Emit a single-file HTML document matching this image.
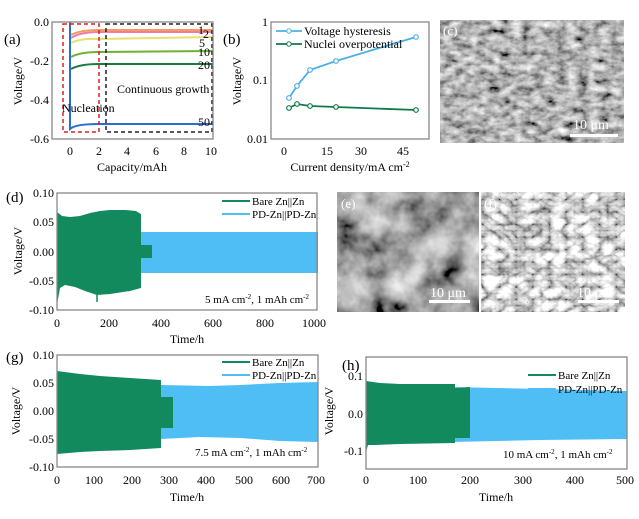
<!DOCTYPE html>
<html><head><meta charset="utf-8"><style>
html,body{margin:0;padding:0;background:#fff;}
svg{display:block;font-family:"Liberation Serif",serif;}
</style></head><body>
<svg width="639" height="519" viewBox="0 0 639 519" xmlns="http://www.w3.org/2000/svg">
<defs>
<filter id="semc" x="0" y="0" width="100%" height="100%">
<feTurbulence type="fractalNoise" baseFrequency="0.09 0.14" numOctaves="3" seed="3"/>
<feColorMatrix type="matrix" values="0.5 0.5 0 0 0  0.5 0.5 0 0 0  0.5 0.5 0 0 0  0 0 0 0 1"/>
<feComponentTransfer><feFuncR type="linear" slope="1.8" intercept="-0.45"/><feFuncG type="linear" slope="1.8" intercept="-0.45"/><feFuncB type="linear" slope="1.8" intercept="-0.45"/></feComponentTransfer>
</filter>
<filter id="seme" x="0" y="0" width="100%" height="100%">
<feTurbulence type="fractalNoise" baseFrequency="0.03" numOctaves="4" seed="8"/>
<feColorMatrix type="matrix" values="0.5 0.5 0 0 0  0.5 0.5 0 0 0  0.5 0.5 0 0 0  0 0 0 0 1"/>
<feComponentTransfer><feFuncR type="linear" slope="2" intercept="-0.6"/><feFuncG type="linear" slope="2" intercept="-0.6"/><feFuncB type="linear" slope="2" intercept="-0.6"/></feComponentTransfer>
</filter>
<filter id="semf" x="0" y="0" width="100%" height="100%">
<feTurbulence type="turbulence" baseFrequency="0.06 0.08" numOctaves="3" seed="5"/>
<feColorMatrix type="matrix" values="1.1 1.1 0 0 0  1.1 1.1 0 0 0  1.1 1.1 0 0 0  0 0 0 0 1"/>
</filter>
</defs>
<g font-size="13" fill="#000">
<!-- Panel a -->
<text x="4" y="44" font-size="15">(a)</text>
<path d="M71,35 Q80,30 99,30 L213,30" stroke="#f0a050" stroke-width="2" fill="none"/>
<path d="M71,38 Q80,32 99,32 L213,32" stroke="#f07ab0" stroke-width="2" fill="none"/>
<path d="M71,43 Q80,38 99,39 L213,37" stroke="#e8e070" stroke-width="2" fill="none"/>
<path d="M71,57 Q80,52 99,52 L213,51" stroke="#70b030" stroke-width="2" fill="none"/>
<path d="M71,69 Q80,64 99,64 L213,64" stroke="#1a7a40" stroke-width="2" fill="none"/>
<path d="M70,22 L70,129 Q75,124 99,124 L213,124" stroke="#2a6ed0" stroke-width="2" fill="none"/>
<rect x="63" y="24" width="36" height="108" fill="none" stroke="#d82020" stroke-width="1.5" stroke-dasharray="4,3"/>
<rect x="106" y="24" width="106" height="108" fill="none" stroke="#222" stroke-width="1.5" stroke-dasharray="4,3"/>
<text x="117" y="93" font-size="12">Continuous growth</text>
<text x="62" y="112" font-size="12">Nucleation</text>
<text x="198" y="34" font-size="12">1</text><text x="203" y="38" font-size="12">2</text><text x="199" y="47" font-size="12">5</text><text x="198" y="56" font-size="12">10</text><text x="198" y="69" font-size="12">20</text><text x="198" y="126" font-size="12">50</text>
<rect x="52" y="22" width="161" height="117" fill="none" stroke="#888" stroke-width="1.3"/>
<g font-size="12" text-anchor="end"><text x="49" y="26">0.0</text><text x="49" y="65">-0.2</text><text x="49" y="104">-0.4</text><text x="49" y="143">-0.6</text></g>
<g font-size="12" text-anchor="middle"><text x="70" y="155">0</text><text x="99" y="155">2</text><text x="127" y="155">4</text><text x="156" y="155">6</text><text x="184" y="155">8</text><text x="211" y="155">10</text></g>
<text x="132" y="171" text-anchor="middle" font-size="12">Capacity/mAh</text>
<text transform="translate(22,81) rotate(-90)" text-anchor="middle" font-size="12">Voltage/V</text>

<!-- Panel b -->
<text x="223" y="44" font-size="15">(b)</text>
<rect x="271" y="22" width="158" height="117" fill="none" stroke="#888" stroke-width="1.3"/>
<g font-size="12" text-anchor="end"><text x="268" y="26">1</text><text x="268" y="84">0.1</text><text x="268" y="143">0.01</text></g>
<g font-size="12" text-anchor="middle"><text x="284" y="155">0</text><text x="327" y="155">15</text><text x="361" y="155">30</text><text x="403" y="155">45</text></g>
<text x="350" y="171" text-anchor="middle" font-size="12">Current density/mA cm<tspan dy="-4" font-size="8">-2</tspan></text>
<text transform="translate(241,81) rotate(-90)" text-anchor="middle" font-size="12">Voltage/V</text>
<polyline points="289,98 297,86 310,70 336,61 416,37" fill="none" stroke="#4cb0e8" stroke-width="1.8"/>
<g fill="#fff" stroke="#4cb0e8" stroke-width="1.2"><circle cx="289" cy="98" r="2.3"/><circle cx="297" cy="86" r="2.3"/><circle cx="310" cy="70" r="2.3"/><circle cx="336" cy="61" r="2.3"/><circle cx="416" cy="37" r="2.3"/></g>
<polyline points="289,108 297,104 310,106 336,107 416,110" fill="none" stroke="#127a4a" stroke-width="1.8"/>
<g fill="#fff" stroke="#127a4a" stroke-width="1.2"><circle cx="289" cy="108" r="2.3"/><circle cx="297" cy="104" r="2.3"/><circle cx="310" cy="106" r="2.3"/><circle cx="336" cy="107" r="2.3"/><circle cx="416" cy="110" r="2.3"/></g>
<line x1="276" y1="31" x2="302" y2="31" stroke="#4cb0e8" stroke-width="1.8"/><circle cx="289" cy="31" r="2.2" fill="#fff" stroke="#4cb0e8"/>
<line x1="276" y1="44" x2="302" y2="44" stroke="#127a4a" stroke-width="1.8"/><circle cx="289" cy="44" r="2.2" fill="#fff" stroke="#127a4a"/>
<text x="304" y="35" font-size="12">Voltage hysteresis</text>
<text x="304" y="48" font-size="12">Nuclei overpotential</text>

<!-- Panel c -->
<rect x="440" y="20" width="184" height="123" fill="#777" filter="url(#semc)"/>
<text x="443" y="35" font-size="13" fill="#fff">(c)</text>
<text x="573" y="129" font-size="14" fill="#fff">10 μm</text>
<rect x="570" y="134" width="48" height="3" fill="#fff"/>

<!-- Panel d -->
<text x="6" y="202" font-size="15">(d)</text>
<polygon points="140,232 318,232 318,273 140,273" fill="#4fbef5"/>
<polygon points="57,212 62,216 70,217 80,216 90,213 100,211 110,210 125,210 136,211 141,214 141,245 152,245 152,258 141,258 141,288 130,291 110,294 97,295 85,291 75,287 65,285 60,288 57,305" fill="#128a5e"/>
<line x1="97" y1="290" x2="97" y2="302" stroke="#128a5e" stroke-width="1.5"/>
<rect x="57" y="193" width="260" height="117" fill="none" stroke="#888" stroke-width="1.3"/>
<line x1="222" y1="201" x2="250" y2="201" stroke="#128a5e" stroke-width="2"/>
<line x1="222" y1="214" x2="250" y2="214" stroke="#4fbef5" stroke-width="2"/>
<text x="252" y="205" font-size="11">Bare Zn||Zn</text>
<text x="252" y="218" font-size="11">PD-Zn||PD-Zn</text>
<text x="205" y="303" font-size="11">5 mA cm<tspan dy="-4" font-size="7">-2</tspan><tspan dy="4">, 1 mAh cm</tspan><tspan dy="-4" font-size="7">-2</tspan></text>
<g font-size="12" text-anchor="end"><text x="54" y="197">0.10</text><text x="54" y="226">0.05</text><text x="54" y="256">0.00</text><text x="54" y="285">-0.05</text><text x="54" y="314">-0.10</text></g>
<g font-size="12" text-anchor="middle"><text x="57" y="327">0</text><text x="109" y="327">200</text><text x="161" y="327">400</text><text x="213" y="327">600</text><text x="265" y="327">800</text><text x="314" y="327">1000</text></g>
<text x="187" y="343" text-anchor="middle" font-size="12">Time/h</text>
<text transform="translate(22,251) rotate(-90)" text-anchor="middle" font-size="12">Voltage/V</text>

<!-- Panel e,f -->
<rect x="337" y="192" width="142" height="120" fill="#666" filter="url(#seme)"/>
<text x="341" y="208" font-size="13" fill="#fff">(e)</text>
<text x="430" y="297" font-size="14" fill="#fff">10 μm</text>
<rect x="429" y="300" width="41" height="3" fill="#fff"/>
<rect x="481" y="192" width="144" height="120" fill="#555" filter="url(#semf)"/>
<text x="484" y="208" font-size="13" fill="#fff">(f)</text>
<text x="577" y="297" font-size="14" fill="#fff">10 μm</text>
<rect x="578" y="300" width="41" height="3" fill="#fff"/>

<!-- Panel g -->
<text x="6" y="362" font-size="15">(g)</text>
<polygon points="161,385 210,386 240,385 280,383 318,382 318,442 280,441 240,438 200,437 161,439" fill="#4fbef5"/>
<polygon points="57,371 80,374 100,376 130,378 161,380 161,397 173,397 173,428 161,428 161,448 130,450 100,451 80,452 57,454" fill="#128a5e"/>
<rect x="57" y="355" width="261" height="112" fill="none" stroke="#888" stroke-width="1.3"/>
<line x1="222" y1="362" x2="250" y2="362" stroke="#128a5e" stroke-width="2"/>
<line x1="222" y1="375" x2="250" y2="375" stroke="#4fbef5" stroke-width="2"/>
<text x="252" y="366" font-size="11">Bare Zn||Zn</text>
<text x="252" y="379" font-size="11">PD-Zn||PD-Zn</text>
<text x="195" y="456" font-size="11">7.5 mA cm<tspan dy="-4" font-size="7">-2</tspan><tspan dy="4">, 1 mAh cm</tspan><tspan dy="-4" font-size="7">-2</tspan></text>
<g font-size="12" text-anchor="end"><text x="54" y="359">0.10</text><text x="54" y="387">0.05</text><text x="54" y="415">0.00</text><text x="54" y="443">-0.05</text><text x="54" y="471">-0.10</text></g>
<g font-size="12" text-anchor="middle"><text x="57" y="484">0</text><text x="94" y="484">100</text><text x="132" y="484">200</text><text x="169" y="484">300</text><text x="206" y="484">400</text><text x="244" y="484">500</text><text x="281" y="484">600</text><text x="316" y="484">700</text></g>
<text x="187" y="501" text-anchor="middle" font-size="12">Time/h</text>
<text transform="translate(20,411) rotate(-90)" text-anchor="middle" font-size="12">Voltage/V</text>

<!-- Panel h -->
<text x="342" y="370" font-size="15">(h)</text>
<polygon points="366,386 450,387 540,389 627,391 627,439 540,440 450,442 366,443" fill="#4fbef5"/>
<polygon points="366,381 380,383 400,384 455,384 455,388 470,387 470,438 455,438 455,443 400,444 375,445 368,445 366,452" fill="#128a5e"/>
<rect x="366" y="357" width="261" height="112" fill="none" stroke="#888" stroke-width="1.3"/>
<line x1="528" y1="375" x2="556" y2="375" stroke="#128a5e" stroke-width="2"/>
<line x1="528" y1="389" x2="556" y2="389" stroke="#4fbef5" stroke-width="2"/>
<text x="558" y="379" font-size="11">Bare Zn||Zn</text>
<text x="558" y="393" font-size="11">PD-Zn||PD-Zn</text>
<text x="503" y="458" font-size="11">10 mA cm<tspan dy="-4" font-size="7">-2</tspan><tspan dy="4">, 1 mAh cm</tspan><tspan dy="-4" font-size="7">-2</tspan></text>
<g font-size="12" text-anchor="end"><text x="363" y="380">0.1</text><text x="363" y="418">0.0</text><text x="363" y="455">-0.1</text></g>
<g font-size="12" text-anchor="middle"><text x="366" y="484">0</text><text x="418" y="484">100</text><text x="470" y="484">200</text><text x="523" y="484">300</text><text x="575" y="484">400</text><text x="625" y="484">500</text></g>
<text x="496" y="501" text-anchor="middle" font-size="12">Time/h</text>
<text transform="translate(333,411) rotate(-90)" text-anchor="middle" font-size="12">Voltage/V</text>
</g>
</svg>
</body></html>
